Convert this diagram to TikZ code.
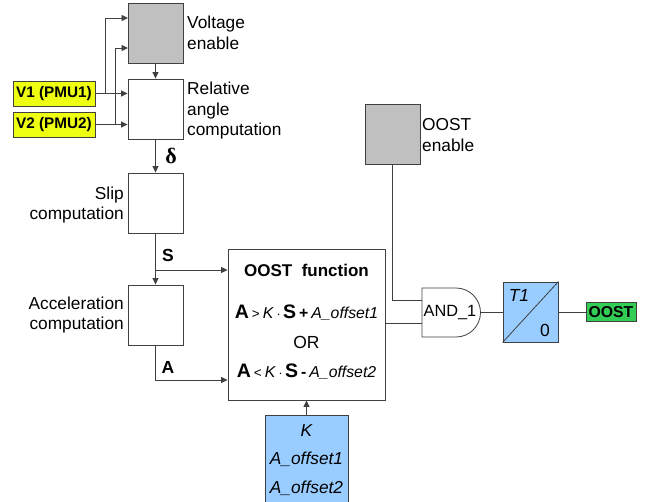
\documentclass[tikz,border=0pt]{standalone}
\usepackage{fontspec}
\setmainfont{Liberation Sans}
\newfontfamily\serifdelta{Liberation Serif}
\usetikzlibrary{arrows.meta,calc}
\definecolor{gbox}{HTML}{C0C0C0}
\definecolor{ybox}{HTML}{EEFF11}
\definecolor{bbox}{HTML}{99CCFF}
\definecolor{greenbox}{HTML}{33CC55}
\definecolor{ln}{HTML}{404040}
\newcommand{\fsp}{\hspace{3pt}}
\begin{document}
\begin{tikzpicture}[x=1pt,y=-1pt,
  blk/.style={draw=ln, line width=0.9pt, minimum width=55pt, minimum height=60pt, inner sep=0pt},
  lbl/.style={inner sep=1pt, align=left, font=\fontsize{17.3}{20.5}\selectfont},
  inbox/.style={draw=ln, line width=0.9pt, fill=ybox, minimum width=82pt, minimum height=25pt, inner sep=0pt, font=\fontsize{15.3}{18}\selectfont\bfseries},
  sig/.style={inner sep=0pt, font=\fontsize{17.5}{20}\selectfont\bfseries},
  arr/.style={draw=ln, line width=0.8pt, -{Triangle[length=6.5pt,width=6pt]}},
  wire/.style={draw=ln, line width=0.8pt},
  ftxt/.style={inner sep=0pt, font=\fontsize{15.8}{19}\selectfont}]
\useasboundingbox (0,0) rectangle (655,501);

% left column blocks
\node[blk, fill=gbox] (ve) at (155.5,33) {};
\node[lbl, anchor=west] (velbl) at (186,33) {Voltage\\enable};
\node[blk] (rel) at (155.5,109) {};
\node[lbl, anchor=west] (rellbl) at (186,111) {Relative\\angle\\computation};
\node[inbox] (v1) at (54,93.5) {V1 (PMU1)};
\node[inbox] (v2) at (54,124.5) {V2 (PMU2)};
\node[blk] (slip) at (155.5,203) {};
\node[lbl, anchor=east, align=right] (sliplbl) at (125,205) {Slip\\computation};
\node[blk] (acc) at (155.5,315) {};
\node[lbl, anchor=east, align=right] (acclbl) at (125,315) {Acceleration\\computation};

% OOST function
\node[blk, minimum width=157pt, minimum height=151pt] (fn) at (306.5,324.5) {};
\node[ftxt, font=\fontsize{17}{19}\selectfont\bfseries] (fn1) at (306.5,270) {OOST\ \ function};
\node[ftxt] (fn2) at (306.5,313) {{\fontsize{19.5}{19}\selectfont\bfseries A}\fsp{\fontsize{13.5}{13}\selectfont >}\fsp\textit{K}\,$\cdot$\,{\fontsize{19.5}{19}\selectfont\bfseries S}\fsp{\bfseries +}\fsp\textit{A\_offset1}};
\node[ftxt, font=\fontsize{17.5}{19}\selectfont] (fn3) at (306.5,342) {OR};
\node[ftxt] (fn4) at (306.5,372) {{\fontsize{19.5}{19}\selectfont\bfseries A}\fsp{\fontsize{13.5}{13}\selectfont <}\fsp\textit{K}\,$\cdot$\,{\fontsize{19.5}{19}\selectfont\bfseries S}\fsp{\bfseries -}\fsp\textit{A\_offset2}};

% parameter box
\node[blk, fill=bbox, minimum width=83pt, minimum height=90pt, align=center, font=\fontsize{17.3}{28.5}\selectfont\itshape] (par) at (306.5,460) {K\\A\_offset1\\A\_offset2};

% OOST enable
\node[blk, fill=gbox] (oe) at (392.5,134) {};
\node[lbl, anchor=west] (oelbl) at (421,135) {OOST\\enable};

% AND gate
\draw[wire, fill=white] (422,288) -- (456,288) .. controls (469.5,288) and (480.5,299) .. (480.5,312.5)
  .. controls (480.5,326) and (469.5,337) .. (456,337) -- (422,337) -- cycle;
\node[ftxt, font=\fontsize{16.3}{19}\selectfont] (and) at (450,312.5) {AND\_1};

% timer
\node[blk, fill=bbox] (tm) at (530.5,312) {};
\draw[wire] (tm.south west) -- (tm.north east);
\node[ftxt, font=\fontsize{17.5}{19}\selectfont\itshape] (t1) at (519,295) {T1};
\node[ftxt, font=\fontsize{17.5}{19}\selectfont] (zero) at (545,330) {0};

% output
\node[draw=ln, line width=0.9pt, fill=greenbox, minimum width=50pt, minimum height=19pt, inner sep=0pt, font=\fontsize{15.8}{18}\selectfont\bfseries] (out) at (611,312) {OOST};

% connectors
\coordinate (j1) at (105,93.5);
\coordinate (j2) at (115,124.5);
\coordinate (ve1) at (128,18);
\coordinate (ve2) at (128,48);
\draw[arr] (v1.east) -- (v1.east -| rel.west);
\draw[arr] (v2.east) -- (v2.east -| rel.west);
\draw[arr] (j1) |- (ve1);
\draw[arr] (j2) |- (ve2);
\draw[arr] (ve.south) -- (rel.north);
\draw[arr] (rel.south) -- (slip.north);
\node[inner sep=0pt, font=\fontsize{22}{22}\selectfont\serifdelta\bfseries] (dl) at (171,156) {δ};
\draw[arr] (slip.south) -- (acc.north);
\coordinate (sj) at (155.5,270);
\draw[arr] (sj) -- (sj -| fn.west);
\node[sig] (sl) at (168,255) {S};
\coordinate (aj) at (155.5,380);
\draw[arr] (acc.south) |- (aj -| fn.west);
\node[sig] (al) at (168,367) {A};
\draw[arr] (par.north) -- (fn.south);
\coordinate (g1) at (422,300);
\coordinate (g2) at (422,323);
\draw[wire] (oe.south) |- (g1);
\draw[wire] (fn.east |- g2) -- (g2);
\coordinate (gout) at (480.5,312);
\draw[wire] (gout) -- (gout -| tm.west);
\draw[wire] (tm.east) -- (out.west);
\end{tikzpicture}
\end{document}
